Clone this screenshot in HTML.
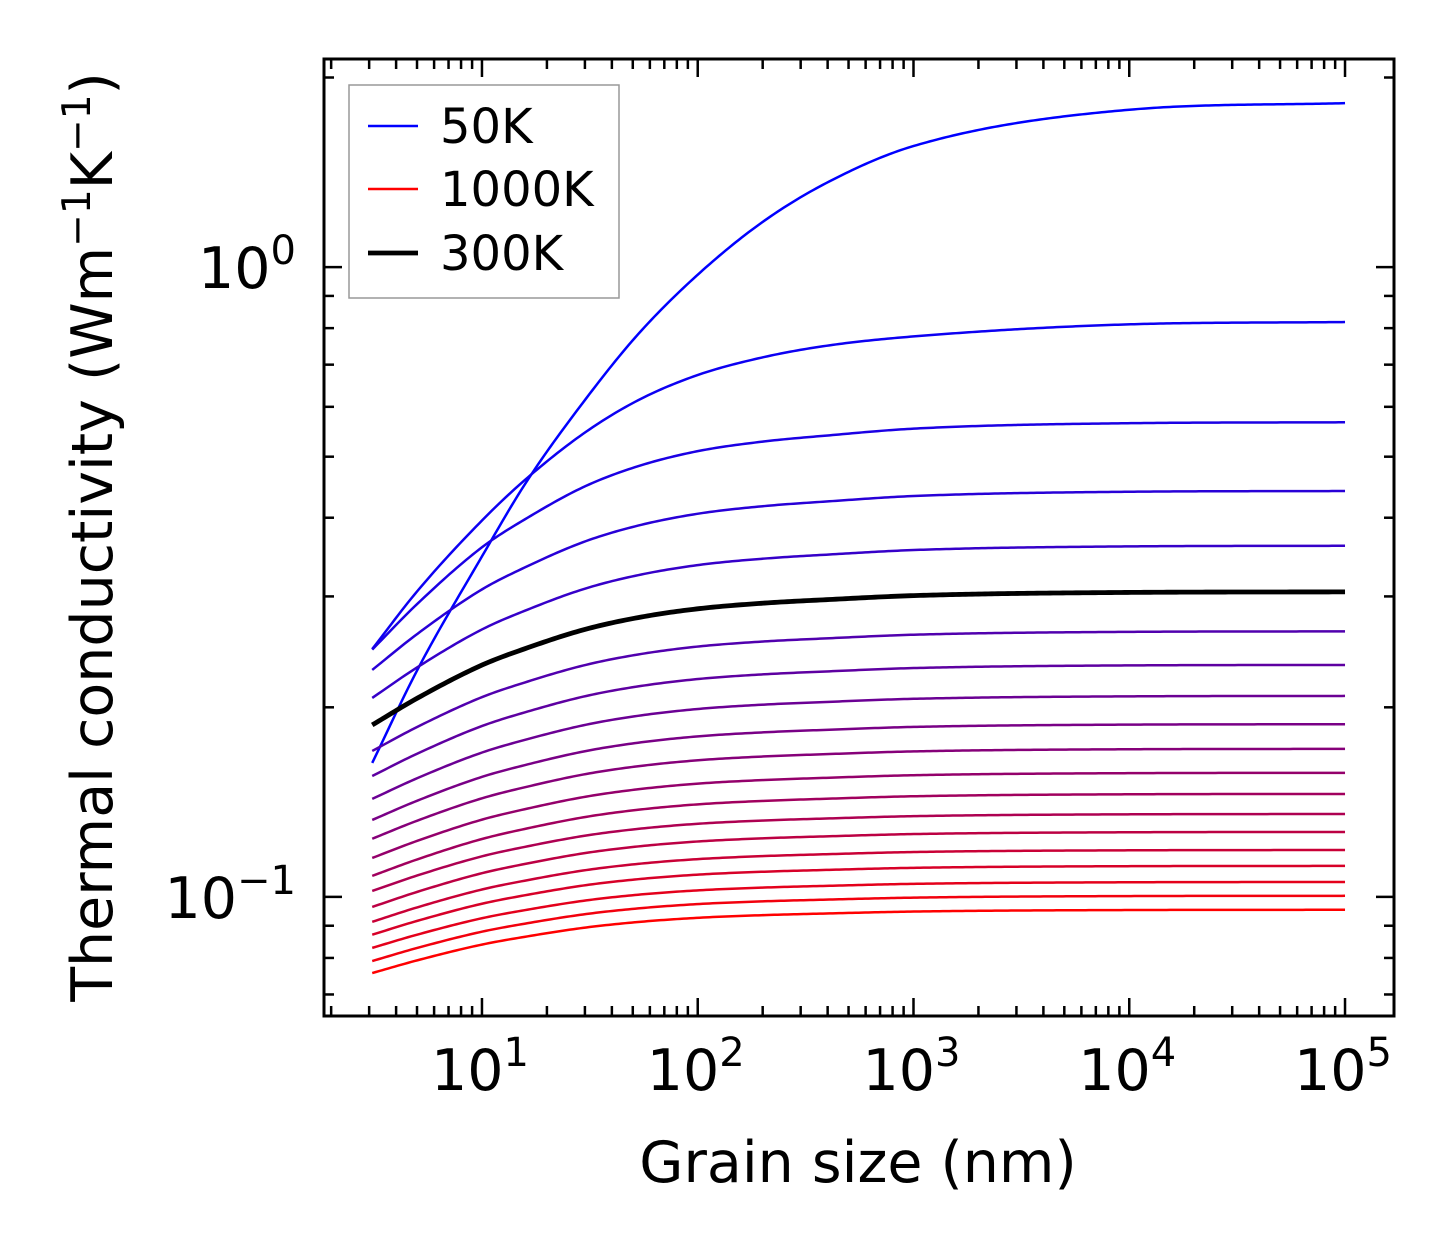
<!DOCTYPE html>
<html><head><meta charset="utf-8">
<style>
html,body{margin:0;padding:0;background:#fff;}
svg{display:block;font-family:"DejaVu Sans","Liberation Sans",sans-serif;}
</style></head>
<body>
<svg id="chart" width="1454" height="1254" viewBox="0 0 1454 1254" xmlns="http://www.w3.org/2000/svg">
<g id="curves"></g>
<g id="axes"></g>
<text x="858" y="1182" font-size="57" text-anchor="middle">Grain size (nm)</text>
<text transform="translate(112,537) rotate(-90)" font-size="57" text-anchor="middle">Thermal conductivity (Wm<tspan dy="-22" font-size="39">−1</tspan><tspan dy="22">K</tspan><tspan dy="-22" font-size="39">−1</tspan><tspan dy="22">)</tspan></text>
<g>
<rect x="349" y="85" width="270" height="213" fill="#fff" stroke="#999" stroke-width="1.5"/>
<g><line x1="368" y1="126" x2="418" y2="126" stroke="#0000ff" stroke-width="2.4"/><text x="440" y="143" font-size="48">50K</text></g>
<g><line x1="368" y1="189" x2="418" y2="189" stroke="#ff0000" stroke-width="2.4"/><text x="440" y="206" font-size="48">1000K</text></g>
<g><line x1="368" y1="253" x2="418" y2="253" stroke="#000" stroke-width="4.8"/><text x="440" y="270" font-size="48">300K</text></g>
</g>
</svg>
<script>
// ---- data ----
const temperatures = [50,100,150,200,250,300,350,400,450,500,550,600,650,700,750,800,850,900,950,1000];
const kAtSmallest = [0.1632,0.2475,0.2470,0.2293,0.2070,0.1875,0.1705,0.1556,0.1431,0.1325,0.1237,0.1153,0.1080,0.1022,0.0964,0.0913,0.0871,0.0830,0.0791,0.0757];
const kBulk = [1.821,0.818,0.567,0.441,0.361,0.305,0.264,0.2335,0.2085,0.188,0.1718,0.1574,0.1457,0.1354,0.1268,0.1187,0.1120,0.1056,0.1004,0.0954];
const grainSizes = [3.1,5,10,16,30,53,100,200,400,1000,10000,100000];
const profile50K = [0,0.14,0.313,0.425,0.55,0.65,0.74,0.82,0.88,0.935,0.99,1];
const profile100K = [0,0.176,0.393,0.52,0.662,0.761,0.838,0.892,0.928,0.956,0.993,1];
const profileOther = [0,0.2,0.45,0.576,0.718,0.807,0.873,0.915,0.942,0.972,0.996,1];
const xTickValues = [10,100,1000,10000,100000];
const xTickExps = ["1","2","3","4","5"];
const yTickValues = [1,0.1];
const yTickExps = ["0","−1"];

// ---- axes ----
const L=324,R=1394,T=59,B=1016;
const xLogMin=Math.log10(1.853), xLogMax=5.227;
const yLogMin=Math.log10(0.0647), yLogMax=Math.log10(2.14);
const xs=v=>L+(Math.log10(v)-xLogMin)/(xLogMax-xLogMin)*(R-L);
const ys=v=>B-(Math.log10(v)-yLogMin)/(yLogMax-yLogMin)*(B-T);
const NS="http://www.w3.org/2000/svg";
function mk(tag,attrs,parent){const e=document.createElementNS(NS,tag);for(const k in attrs)e.setAttribute(k,attrs[k]);parent.appendChild(e);return e;}

function monotone(xv,yv){
  const n=xv.length,d=[],m=new Array(n);
  for(let i=0;i<n-1;i++)d.push((yv[i+1]-yv[i])/(xv[i+1]-xv[i]));
  m[0]=d[0];m[n-1]=d[n-2];
  for(let i=1;i<n-1;i++){m[i]=(d[i-1]*d[i]<=0)?0:(d[i-1]+d[i])/2;}
  for(let i=0;i<n-1;i++){if(d[i]===0){m[i]=m[i+1]=0;continue;}const a=m[i]/d[i],b=m[i+1]/d[i],s=a*a+b*b;if(s>9){const t=3/Math.sqrt(s);m[i]=t*a*d[i];m[i+1]=t*b*d[i];}}
  return x=>{let i=0;while(i<n-2&&x>xv[i+1])i++;const h=xv[i+1]-xv[i],t=(x-xv[i])/h,t2=t*t,t3=t2*t;
    return (2*t3-3*t2+1)*yv[i]+(t3-2*t2+t)*h*m[i]+(-2*t3+3*t2)*yv[i+1]+(t3-t2)*h*m[i+1];};
}

const curves=document.getElementById('curves');
const lx=grainSizes.map(v=>Math.log10(v));
function drawCurve(idx,color,width,name){
  const prof=idx===0?profile50K:(idx===1?profile100K:profileOther);
  const s=Math.log10(kAtSmallest[idx]),e=Math.log10(kBulk[idx]);
  const ly=prof.map(f=>s+f*(e-s));
  const f=monotone(lx,ly);
  let d="";
  for(let j=0;j<=300;j++){const x=lx[0]+(lx[lx.length-1]-lx[0])*j/300;const px=xs(Math.pow(10,x)),py=ys(Math.pow(10,f(x)));d+=(j?"L":"M")+px.toFixed(2)+","+py.toFixed(2);}
  const p=mk('path',{d:d,fill:'none',stroke:color,'stroke-width':width,'stroke-linejoin':'round'},curves);
  
  
}
const n=temperatures.length;
for(let i=0;i<n;i++){
  if(temperatures[i]===300)continue;
  const t=i/(n-1);
  drawCurve(i,`rgb(${Math.round(255*t)},0,${Math.round(255*(1-t))})`,2.5,'curve-'+temperatures[i]+'k');
}
drawCurve(temperatures.indexOf(300),'#000',4.8,'curve-300k');

const axes=document.getElementById('axes');
const fr=mk('rect',{x:L,y:T,width:R-L,height:B-T,fill:'none',stroke:'#000','stroke-width':3},axes);


function tick(x1,y1,x2,y2){mk('line',{x1,y1,x2,y2,stroke:'#000','stroke-width':2.5},axes);}
for(let dec=0;dec<=5;dec++)for(let k=1;k<=9;k++){
  const v=k*Math.pow(10,dec);const lv=Math.log10(v);if(lv<xLogMin||lv>xLogMax)continue;
  const x=xs(v),len=k===1?18:10;tick(x,B,x,B-len);tick(x,T,x,T+len);
}
xTickValues.forEach((v,i)=>{
  const t=mk('text',{x:xs(v)-2,y:1090,'font-size':57,'text-anchor':'middle'},axes);
  
  
  t.textContent='10';
  const s=mk('tspan',{dy:-24,'font-size':40},t);s.textContent=xTickExps[i];
});
for(let dec=-2;dec<=0;dec++)for(let k=1;k<=9;k++){
  const v=k*Math.pow(10,dec);const lv=Math.log10(v);if(lv<yLogMin||lv>yLogMax)continue;
  const y=ys(v),len=k===1?18:10;tick(L,y,L+len,y);tick(R,y,R-len,y);
}
yTickValues.forEach((v,i)=>{
  const t=mk('text',{x:296,y:ys(v)+21,'font-size':57,'text-anchor':'end'},axes);
  
  
  const a=mk('tspan',{},t);a.textContent='10';
  const s=mk('tspan',{dy:-24,'font-size':40},t);s.textContent=yTickExps[i];
});
</script>
</body></html>
